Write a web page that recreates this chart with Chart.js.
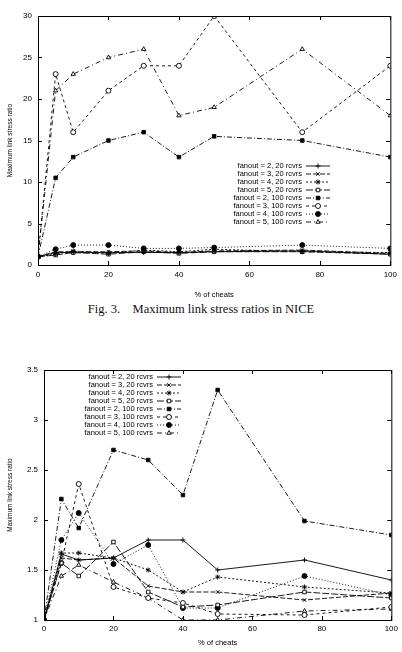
<!DOCTYPE html>
<html>
<head>
<meta charset="utf-8">
<script src="https://cdn.jsdelivr.net/npm/chart.js@4.4.0/dist/chart.umd.min.js"></script>
<style>
  body { margin: 0; background: #fff; width: 402px; height: 652px; position: relative; overflow: hidden; }
  canvas { position: absolute; left: 0; }
  #top { top: 0; }
  #bottom { top: 345px; }
  #caption { position: absolute; top: 302px; left: 0; width: 402px; text-align: center;
             font: 12.5px "Liberation Serif", serif; color: #111; white-space: pre; }
</style>
</head>
<body>
<canvas id="top" width="402" height="300"></canvas>
<div id="caption">Fig. 3.    Maximum link stress ratios in NICE</div>
<canvas id="bottom" width="402" height="307"></canvas>
<script>
// x positions (% of cheats)
const cheats = [0, 5, 10, 20, 30, 40, 50, 75, 100];

const seriesLabels = [
  "fanout = 2, 20 rcvrs", "fanout = 3, 20 rcvrs", "fanout = 4, 20 rcvrs", "fanout = 5, 20 rcvrs",
  "fanout = 2, 100 rcvrs", "fanout = 3, 100 rcvrs", "fanout = 4, 100 rcvrs", "fanout = 5, 100 rcvrs"
];

// top chart (NICE)
const niceF2_20 = [1, 1.5, 1.5, 1.5, 1.5, 1.5, 1.6, 1.7, 1.3];
const niceF3_20 = [1, 1.6, 1.6, 1.6, 1.7, 1.5, 1.7, 1.8, 1.4];
const niceF4_20 = [1, 1.3, 1.7, 1.4, 1.8, 1.6, 1.9, 1.6, 1.5];
const niceF5_20 = [1, 1.2, 1.5, 1.3, 1.6, 1.4, 1.6, 1.6, 1.3];
const niceF2_100 = [1, 10.5, 13, 15, 16, 13, 15.5, 15, 13];
const niceF3_100 = [1, 23, 16, 21, 24, 24, 30, 16, 24];
const niceF4_100 = [1, 1.9, 2.4, 2.4, 2.0, 2.0, 2.1, 2.4, 2.0];
const niceF5_100 = [1, 21, 23, 25, 26, 18, 19, 26, 18];
const niceTicksY = [0, 5, 10, 15, 20, 25, 30];

// bottom chart
const botF2_20 = [1, 1.66, 1.60, 1.62, 1.80, 1.80, 1.50, 1.60, 1.40];
const botF3_20 = [1, 1.62, 1.60, 1.62, 1.34, 1.28, 1.28, 1.20, 1.27];
const botF4_20 = [1, 1.67, 1.67, 1.62, 1.50, 1.28, 1.43, 1.33, 1.27];
const botF5_20 = [1, 1.57, 1.44, 1.78, 1.28, 1.13, 1.15, 1.28, 1.22];
const botF2_100 = [1, 2.21, 1.92, 2.70, 2.60, 2.25, 3.30, 1.99, 1.85];
const botF3_100 = [1, 1.57, 2.36, 1.33, 1.22, 1.17, 1.06, 1.05, 1.13];
const botF4_100 = [1, 1.80, 2.07, 1.56, 1.75, 1.12, 1.12, 1.44, 1.25];
const botF5_100 = [1, 1.44, 1.55, 1.38, 1.22, 1.00, 1.00, 1.09, 1.11];
const botTicksY = [1, 1.5, 2, 2.5, 3, 3.5];

const ticksX = [0, 20, 40, 60, 80, 100];

// gnuplot-ish look for each series
const lineDash = [[], [5, 2], [2, 2], [7, 2], [5, 2, 1, 2], [3, 3], [1, 2], [5, 3, 1, 3]];
const marker = ['cross', 'crossRot', 'star', 'rect', 'rect', 'circle', 'circle', 'triangle'];
const filled = [false, false, false, false, true, false, true, false];

const sans = "'Liberation Sans', Arial, sans-serif";

// box around the plot, inward ticks, and a gnuplot style key
const framePlugin = {
  id: 'frame',
  afterDatasetsDraw(chart, args, opts) {
    const { ctx, chartArea: a, scales } = chart;
    ctx.save();
    ctx.strokeStyle = '#000';
    ctx.lineWidth = 1;
    ctx.setLineDash([]);
    ctx.strokeRect(a.left + 0.5, a.top + 0.5, a.right - a.left, a.bottom - a.top);
    ctx.beginPath();
    scales.x.ticks.forEach(t => {
      const px = Math.round(scales.x.getPixelForValue(t.value)) + 0.5;
      ctx.moveTo(px, a.bottom); ctx.lineTo(px, a.bottom - 4);
      ctx.moveTo(px, a.top); ctx.lineTo(px, a.top + 4);
    });
    scales.y.ticks.forEach(t => {
      const py = Math.round(scales.y.getPixelForValue(t.value)) + 0.5;
      ctx.moveTo(a.left, py); ctx.lineTo(a.left + 4, py);
      ctx.moveTo(a.right, py); ctx.lineTo(a.right - 4, py);
    });
    ctx.stroke();

    // key
    ctx.font = "7.5px " + sans;
    ctx.fillStyle = '#000';
    ctx.textAlign = 'right';
    ctx.textBaseline = 'middle';
    chart.data.datasets.forEach((ds, i) => {
      const y = opts.keyY + i * opts.rowH;
      ctx.fillText(ds.label, opts.keyX, y);
      ctx.beginPath();
      ctx.setLineDash(ds.borderDash);
      ctx.lineWidth = ds.borderWidth;
      ctx.moveTo(opts.keyX + 4, y);
      ctx.lineTo(opts.keyX + 28, y);
      ctx.stroke();
      ctx.setLineDash([]);
      ctx.fillStyle = ds.pointBackgroundColor;
      Chart.helpers.drawPoint(ctx, {
        pointStyle: ds.pointStyle, radius: ds.pointRadius, borderWidth: ds.pointBorderWidth, rotation: 0
      }, opts.keyX + 16, y);
      ctx.fillStyle = '#000';
    });
    ctx.restore();
  }
};

function makeChart(id, values, yMin, yMax, yTicks, cfg) {
  const datasets = values.map((vals, i) => ({
    label: seriesLabels[i],
    data: cheats.map((c, j) => ({ x: c, y: vals[j] })),
    borderColor: '#000',
    borderWidth: 0.9,
    borderDash: lineDash[i],
    pointStyle: marker[i],
    pointRadius: 2.5,
    pointBorderWidth: 0.9,
    pointBorderColor: '#000',
    pointBackgroundColor: filled[i] ? '#000' : '#fff',
    tension: 0,
    fill: false
  }));

  return new Chart(document.getElementById(id), {
    type: 'line',
    data: { datasets: datasets },
    options: {
      responsive: false,
      animation: false,
      layout: { padding: cfg.padding },
      plugins: {
        legend: { display: false },
        tooltip: { enabled: false },
        frame: cfg.key
      },
      scales: {
        x: {
          type: 'linear', min: 0, max: 100,
          afterBuildTicks: s => { s.ticks = ticksX.map(v => ({ value: v })); },
          ticks: { font: { family: sans, size: 8 }, color: '#000', padding: cfg.xTickPad, maxRotation: 0,
                   callback: v => String(v) },
          grid: { display: false, drawTicks: false, tickLength: 0 },
          border: { display: false },
          title: { display: true, text: '% of cheats', font: { family: sans, size: 7.5 }, color: '#000',
                   padding: { top: 1, bottom: cfg.xTitlePad } },
          afterFit: s => { s.height = cfg.xHeight; }
        },
        y: {
          min: yMin, max: yMax,
          afterBuildTicks: s => { s.ticks = yTicks.map(v => ({ value: v })); },
          ticks: { font: { family: sans, size: 8 }, color: '#000', padding: 6, callback: v => String(v) },
          grid: { display: false, drawTicks: false, tickLength: 0 },
          border: { display: false },
          title: { display: true, text: 'Maximum link stress ratio', font: { family: sans, size: 6.5 }, color: '#000',
                   padding: { top: 6, bottom: 0 } },
          afterFit: s => { s.width = cfg.yWidth; }
        }
      }
    },
    plugins: [framePlugin]
  });
}

makeChart('top',
  [niceF2_20, niceF3_20, niceF4_20, niceF5_20, niceF2_100, niceF3_100, niceF4_100, niceF5_100],
  0, 30, niceTicksY,
  { padding: { top: 16, right: 7, left: 0, bottom: 0 }, yWidth: 38, xHeight: 35, xTitlePad: 1, xTickPad: 5,
    key: { keyX: 302, keyY: 166, rowH: 8 } });

makeChart('bottom',
  [botF2_20, botF3_20, botF4_20, botF5_20, botF2_100, botF3_100, botF4_100, botF5_100],
  1, 3.5, botTicksY,
  { padding: { top: 25, right: 5, left: 0, bottom: 0 }, yWidth: 44, xHeight: 32, xTitlePad: 5, xTickPad: 4,
    key: { keyX: 153, keyY: 32, rowH: 8 } });
</script>
</body>
</html>
